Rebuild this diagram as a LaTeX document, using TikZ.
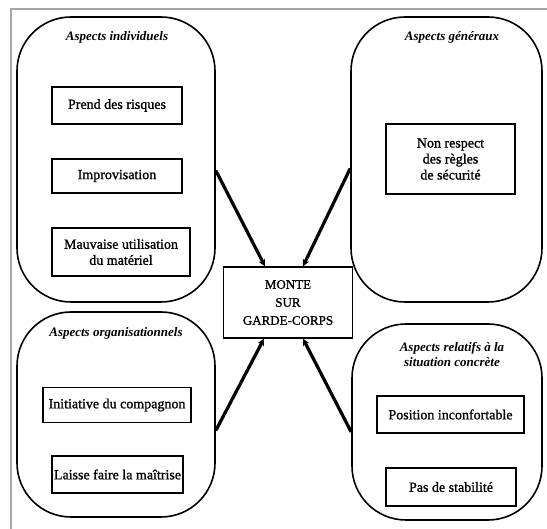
\documentclass[tikz,border=0pt]{standalone}
\usepackage{fontspec}
\setmainfont{Liberation Serif}
\newfontfamily\heavy[FakeBold=1.2]{Liberation Serif}
\usetikzlibrary{arrows.meta,calc}
\begin{document}
\begin{tikzpicture}[x=1pt,y=-1pt,
  group/.style={draw,line width=1.6pt,rounded corners=54pt,minimum width=#1,inner sep=0pt},
  item/.style={draw,line width=1.3pt,inner sep=0pt,align=center,font=\heavy\fontsize{14}{16}\selectfont},
  ttl/.style={align=center,font=\fontsize{13}{15}\selectfont\bfseries\itshape},
  link/.style={line width=3.2pt,-{Stealth[length=7pt,width=7pt]}}]
\useasboundingbox (0,0) rectangle (547,529);
\draw[gray!70,line width=1.5pt] (11,529) -- (11,9) -- (547,9);
% groups
\node[group=198pt,minimum height=285pt] (ind) at (116,159.5) {};
\node[group=191pt,minimum height=285pt] (gen) at (446.5,159.5) {};
\node[group=198pt,minimum height=205pt] (org) at (116,414.5) {};
\node[group=190pt,minimum height=196pt] (rel) at (447,422) {};
% titles
\node[ttl] (tind) at (117,37) {Aspects individuels};
\node[ttl] (tgen) at (452,37) {Aspects généraux};
\node[ttl] (torg) at (116,333) {Aspects organisationnels};
\node[ttl] (trel) at (452,355) {Aspects relatifs à la\\situation concrète};
% items
\node[item,minimum width=130pt,minimum height=37pt] (a1) at (117,105.5) {Prend des risques};
\node[item,minimum width=130pt,minimum height=34pt] (a2) at (117,176) {Improvisation};
\node[item,minimum width=138pt,minimum height=48pt] (a3) at (121,252) {Mauvaise utilisation\\du matériel};
\node[item,minimum width=129pt,minimum height=70pt] (b1) at (450.5,159) {Non respect\\des règles\\de sécurité};
\node[item,minimum width=148pt,minimum height=35pt] (c1) at (117,405) {Initiative du compagnon};
\node[item,minimum width=131pt,minimum height=37pt] (c2) at (117.5,474.5) {Laisse faire la maîtrise};
\node[item,minimum width=147pt,minimum height=37pt] (d1) at (450.5,414.5) {Position inconfortable};
\node[item,minimum width=130pt,minimum height=38pt] (d2) at (451,487) {Pas de stabilité};
% center
\node[item,minimum width=129pt,minimum height=71pt,font=\heavy\fontsize{13}{18}\selectfont] (mon) at (288,302.5) {MONTE\\SUR\\GARDE-CORPS};
% links
\draw[link] ([yshift=-11pt]ind.east) -- ([xshift=-23pt]mon.north);
\draw[link] ([yshift=-9pt]gen.west) -- ([xshift=15pt]mon.north);
\draw[link] ([yshift=-16pt]org.east) -- ([xshift=-24pt]mon.south);
\draw[link] ([yshift=-10pt]rel.west) -- ([xshift=15pt]mon.south);
\end{tikzpicture}
\end{document}
